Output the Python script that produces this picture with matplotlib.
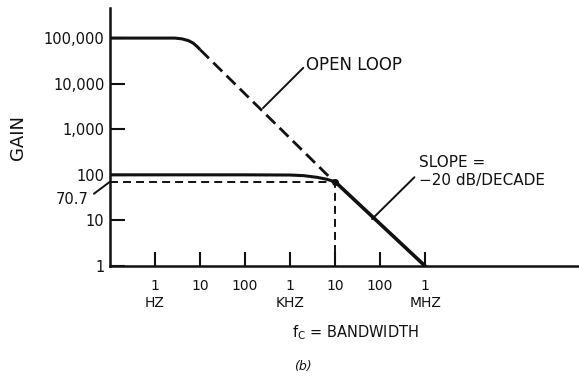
import matplotlib
matplotlib.use("Agg")
import matplotlib.pyplot as plt
from matplotlib.ticker import NullLocator
import matplotlib.transforms as mtransforms

# values (frequency in Hz, gain as ratio)
ol_solid_f = [0.1, 1, 2.8, 4, 5.5, 7, 8.5, 10]
ol_solid_g = [1e5, 1e5, 1e5, 9.6e4, 8.8e4, 7.8e4, 6.6e4, 5.6e4]
ol_dash_f = [10, 9000]
ol_dash_g = [5.6e4, 75]

cl_f = [0.1, 100, 1000, 2000, 4000, 6500, 10000]
cl_g = [100, 100, 99, 96, 88, 80, 70.7]
roll_f = [10000, 1e6]
roll_g = [70.7, 1]

fc = 10000
half_power = 70.7

y_ticks = [1, 10, 100, 1000, 10000, 100000]
y_labels = ['1', '10', '100', '1,000', '10,000', '100,000']
x_ticks = [1, 10, 100, 1e3, 1e4, 1e5, 1e6]
x_labels = ['1', '10', '100', '1', '10', '100', '1']
units = [(1, 'HZ'), (1e3, 'KHZ'), (1e6, 'MHZ')]

ink = '#111111'
plt.rcParams['font.family'] = ['DejaVu Sans']

fig = plt.figure(figsize=(5.79, 3.79), dpi=100)
ax = fig.add_axes([110 / 579, 113 / 379, 469 / 579, 258 / 379])
ax.set_xscale('log')
ax.set_yscale('log')
ax.set_xlim(0.1, 10 ** 9.42)
ax.set_ylim(1, 10 ** 5.66)

# open loop
ax.plot(ol_solid_f, ol_solid_g, color=ink, lw=2.2, solid_capstyle='butt')
ax.plot(ol_dash_f, ol_dash_g, color=ink, lw=2.0, dashes=(4.5, 2.2))

# closed loop
ax.plot(cl_f, cl_g, color=ink, lw=2.2)
ax.plot(roll_f, roll_g, color=ink, lw=2.6)
ax.plot([fc], [half_power], 'o', color=ink, ms=4)

# -3 dB guides
ax.plot([0.1, fc], [half_power, half_power], color=ink, lw=1.4, dashes=(4.1, 2.6))
ax.plot([fc, fc], [1, half_power], color=ink, lw=1.4, dashes=(4.1, 2.6))

for s in ['top', 'right']:
    ax.spines[s].set_visible(False)
for s in ['left', 'bottom']:
    ax.spines[s].set_linewidth(1.8)
    ax.spines[s].set_color(ink)

ax.set_yticks(y_ticks)
ax.set_yticklabels(y_labels, fontsize=10.5, color=ink)
ax.set_xticks(x_ticks)
ax.set_xticklabels(x_labels, fontsize=10, color=ink)
ax.xaxis.set_minor_locator(NullLocator())
ax.yaxis.set_minor_locator(NullLocator())
ax.tick_params(axis='y', direction='in', length=11, width=1.5, pad=4, color=ink)
ax.tick_params(axis='x', direction='in', length=10, width=1.5, pad=9, color=ink)

trans = mtransforms.blended_transform_factory(ax.transData, ax.transAxes)
for f, u in units:
    ax.text(f, -0.143, u, transform=trans, ha='center', va='center',
            fontsize=10, color=ink)
ax.text(2.8e4, -0.26, r'$\mathrm{f_C}$ = BANDWIDTH', transform=trans,
        ha='center', va='center', fontsize=10.5, color=ink)
ax.text(1950, -0.391, '(b)', transform=trans, ha='center', va='center',
        fontsize=9, style='italic', color=ink)

fig.text(18 / 579, 1 - 138 / 379, 'GAIN', rotation=90, ha='center',
         va='center', fontsize=13, color=ink)

# annotations
ax.annotate('OPEN LOOP', xy=(251, 2920), xytext=(2268, 2.56e4),
            fontsize=12, color=ink, va='center', ha='left',
            arrowprops=dict(arrowstyle='-', color=ink, lw=1.4,
                            shrinkA=0, shrinkB=0,
                            relpos=(0, 0.5)))
ax.text(7.4e5, 191, 'SLOPE =', fontsize=11, color=ink, va='center', ha='left')
ax.annotate('\u221220 dB/DECADE', xy=(6.64e4, 10.7), xytext=(7.4e5, 76.9),
            fontsize=11, color=ink, va='center', ha='left',
            arrowprops=dict(arrowstyle='-', color=ink, lw=1.4,
                            shrinkA=2, shrinkB=0, relpos=(0, 1.0)))
ax.annotate('70.7', xy=(0.1, half_power), xytext=(0.034, 29.5),
            fontsize=10.5, color=ink, va='center', ha='right',
            annotation_clip=False,
            arrowprops=dict(arrowstyle='-', color=ink, lw=1.4,
                            shrinkA=2, shrinkB=0, relpos=(1.0, 0.6)))

fig.savefig('out.png', dpi=100, facecolor='white')
